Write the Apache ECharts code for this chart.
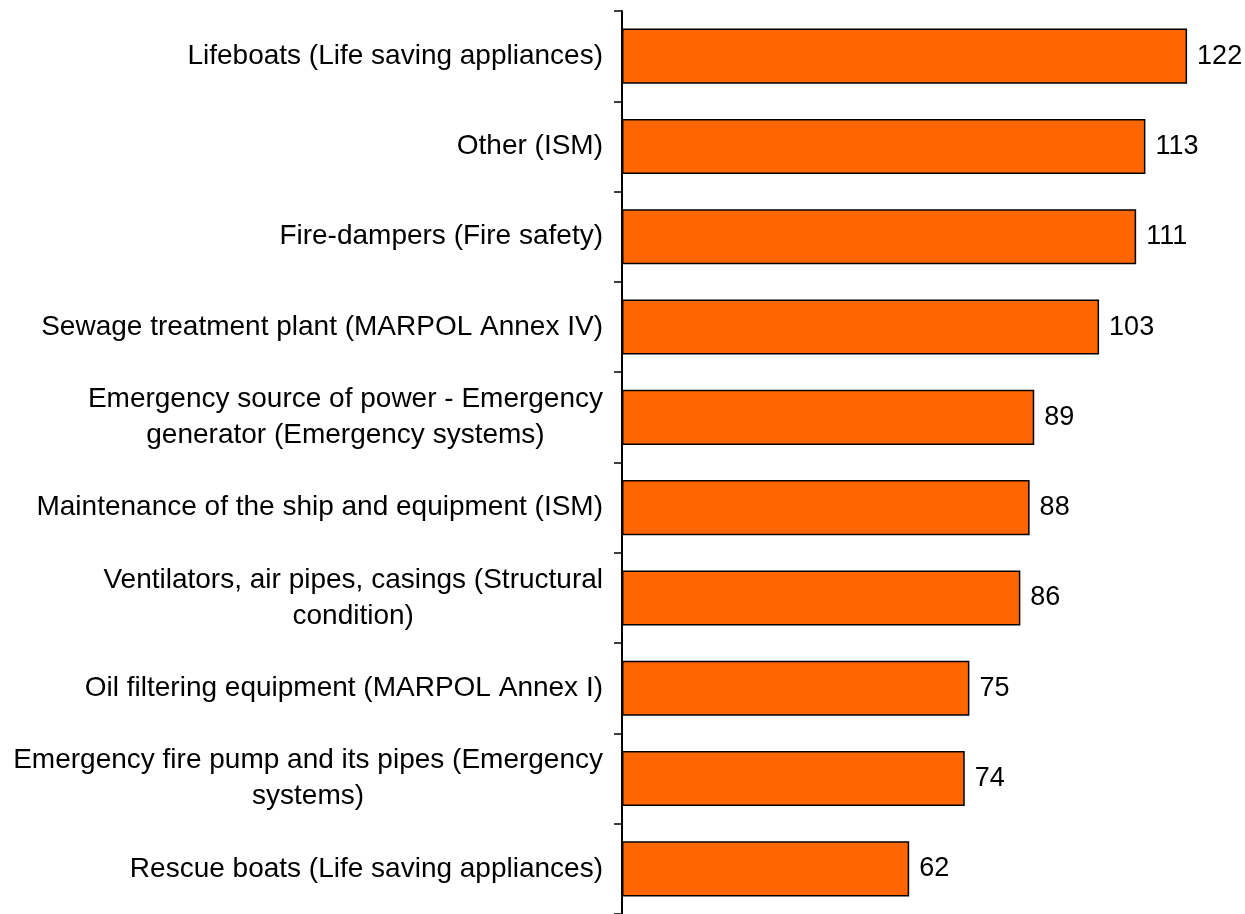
<!DOCTYPE html>
<html>
<head>
<meta charset="utf-8">
<script src="https://cdn.jsdelivr.net/npm/echarts@6/dist/echarts.min.js"></script>
<style>
  html, body { margin: 0; padding: 0; background: #fff; }
  #chart { width: 1245px; height: 914px; }
</style>
</head>
<body>
<div id="chart"></div>
<script>
// categories top to bottom
const categories = [
  'Lifeboats (Life saving appliances)',
  'Other (ISM)',
  'Fire-dampers (Fire safety)',
  'Sewage treatment plant (MARPOL Annex IV)',
  'Emergency source of power - Emergency\ngenerator (Emergency systems)',
  'Maintenance of the ship and equipment (ISM)',
  'Ventilators, air pipes, casings (Structural\ncondition)',
  'Oil filtering equipment (MARPOL Annex I)',
  'Emergency fire pump and its pipes (Emergency\nsystems)',
  'Rescue boats (Life saving appliances)'
]
const counts = [122, 113, 111, 103, 89, 88, 86, 75, 74, 62]

const FONT = 'Liberation Sans, Arial, sans-serif'
const chart = echarts.init(document.getElementById('chart'))

chart.setOption({
  animation: false,
  grid: { left: 622, right: 0, top: 11, bottom: 0 },
  xAxis: {
    type: 'value',
    min: 0,
    max: 134.5,
    show: false
  },
  yAxis: {
    type: 'category',
    inverse: true,
    data: categories,
    axisLine: { show: true, lineStyle: { color: '#000', width: 2 } },
    axisTick: { show: true, length: 8, lineStyle: { color: '#000', width: 1.5 } },
    axisLabel: {
      margin: 19,
      color: '#000',
      fontFamily: FONT,
      fontSize: 28,
      lineHeight: 36,
      align: 'right',
      // centre each line inside the right-aligned block
      formatter: (v) => v.split('\n').map((l) => '{c|' + l + '}').join('\n'),
      rich: { c: { align: 'center', fontFamily: FONT, fontSize: 28, lineHeight: 36, color: '#000' } }
    }
  },
  series: [{
    type: 'bar',
    data: counts,
    barCategoryGap: '39%',
    itemStyle: { color: '#FF6600', borderColor: '#000', borderWidth: 1.5 },
    label: {
      show: true,
      position: 'right',
      distance: 10,
      color: '#000',
      fontFamily: FONT,
      fontSize: 27
    }
  }]
})
</script>
</body>
</html>
